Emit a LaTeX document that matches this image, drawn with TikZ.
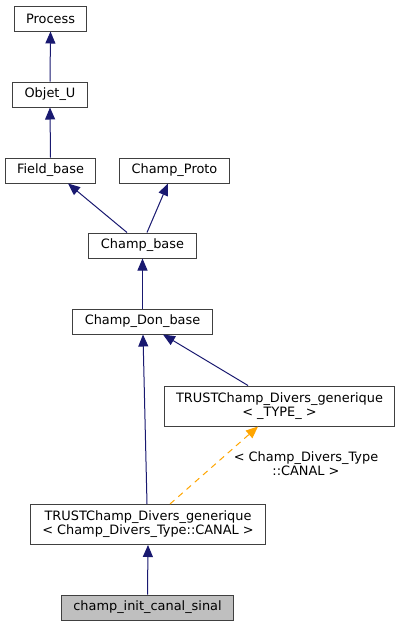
\documentclass[tikz,border=0pt]{standalone}
\usepackage{fontspec}
\setmainfont{DejaVu Sans}
\usepackage{tikz}
\usetikzlibrary{arrows.meta, positioning, calc}

\definecolor{edgeblue}{HTML}{191970}
\definecolor{boxgray}{HTML}{404040}
\definecolor{tmplorange}{HTML}{FFA500}
\definecolor{curfill}{HTML}{BFBFBF}

\begin{document}
\begin{tikzpicture}[
    x=1pt, y=-1pt,
    font=\fontsize{12.9}{14}\selectfont,
    cls/.style={
        rectangle,
        draw=boxgray,
        line width=1pt,
        fill=white,
        align=center,
        inner xsep=12pt,
        inner ysep=2pt,
        minimum height=25pt
    },
    inh/.style={
        -{Triangle[length=12pt, width=10pt]},
        line width=1pt,
        color=edgeblue
    },
    tmpl/.style={
        -{Triangle[length=12pt, width=10pt]},
        line width=1pt,
        dash pattern=on 6pt off 5pt,
        color=tmplorange
    }
]
\useasboundingbox (0,0) rectangle (401,627);

% class boxes
\node[cls] (process) at (50.5,18.5) {Process};
\node[cls] (objet) at (50,94.5) {Objet\_U};
\node[cls] (fbase) at (50.5,170.5) {Field\_base};
\node[cls] (proto) at (174.5,170.5) {Champ\_Proto};
\node[cls] (cbase) at (142.5,245.5) {Champ\_base};
\node[cls] (donbase) at (142.5,321.5) {Champ\_Don\_base};
\node[cls, minimum height=40pt] (generic) at (279.5,406) {TRUSTChamp\_Divers\_generique\\{}< \_TYPE\_ >};
\node[cls, minimum height=40pt] (canal) at (148,524.5) {TRUSTChamp\_Divers\_generique\\{}< Champ\_Divers\_Type::CANAL >};
\node[cls, fill=curfill] (sinal) at (147.5,607.5) {champ\_init\_canal\_sinal};

% inheritance arrows
\draw[inh] (objet.north) -- (process.south);
\draw[inh] (fbase.north) -- (objet.south);
\draw[inh] ([xshift=-15.5pt]cbase.north) -- ([xshift=17.5pt]fbase.south);
\draw[inh] ([xshift=4.5pt]cbase.north) -- ([xshift=-6.5pt]proto.south);
\draw[inh] (donbase.north) -- (cbase.south);
\draw[inh] ([xshift=-1pt]canal.north) -- ([xshift=0.5pt]donbase.south);
\draw[inh] ([xshift=-31.5pt]generic.north) -- ([xshift=20.5pt]donbase.south);
\draw[inh] (sinal.north) -- (canal.south);

% template instance
\draw[tmpl] ([xshift=22pt]canal.north) -- ([xshift=-21.5pt]generic.south);
\node[align=center] (tmpllabel) at (306,464) {< Champ\_Divers\_Type\\::CANAL >};

\end{tikzpicture}
\end{document}
